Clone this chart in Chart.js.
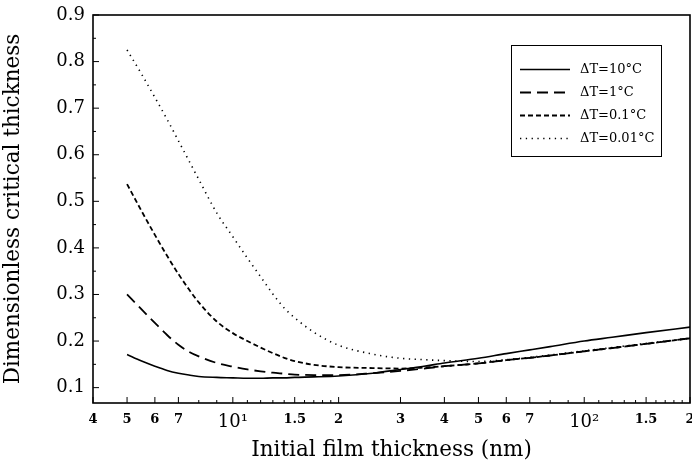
<!DOCTYPE html>
<html>
<head>
<meta charset="utf-8">
<script src="https://cdn.jsdelivr.net/npm/chart.js@4/dist/chart.umd.min.js"></script>
<style>
html,body{margin:0;padding:0;background:#fff;}
#wrap{width:692px;height:466px;}
</style>
</head>
<body>
<div id="wrap"><canvas id="c" width="692" height="466"></canvas></div>
<script>
// ---- data ----
const xValues = [5,5.5,6,6.5,7,7.5,8,9,10,11,12,13,14,15,17,20,25,30,35,40,50,60,70,80,100,120,150,200];
const dT10   = [0.171,0.157,0.146,0.137,0.131,0.127,0.124,0.122,0.121,0.120,0.120,0.121,0.121,0.122,0.123,0.125,0.131,0.139,0.146,0.153,0.163,0.173,0.181,0.188,0.200,0.208,0.218,0.230];
const dT1    = [0.300,0.268,0.239,0.213,0.192,0.177,0.167,0.153,0.145,0.139,0.135,0.132,0.130,0.128,0.127,0.127,0.131,0.136,0.141,0.146,0.152,0.159,0.164,0.169,0.178,0.185,0.194,0.206];
const dT01   = [0.537,0.479,0.428,0.383,0.344,0.311,0.283,0.242,0.217,0.200,0.186,0.174,0.164,0.157,0.149,0.144,0.142,0.141,0.143,0.146,0.152,0.159,0.164,0.169,0.178,0.185,0.194,0.206];
const dT001  = [0.825,0.773,0.723,0.676,0.630,0.587,0.547,0.475,0.424,0.378,0.338,0.301,0.271,0.250,0.219,0.191,0.172,0.163,0.160,0.158,0.156,0.160,0.165,0.170,0.179,0.186,0.195,0.206];
const seriesNames = ['\u0394T=10\u00B0C','\u0394T=1\u00B0C','\u0394T=0.1\u00B0C','\u0394T=0.01\u00B0C'];

const xMajorTicks = [4,5,6,7,10,15,20,30,40,50,60,70,100,150,200];
const xMinorTicks = [8,9,11,12,13,14,16,17,18,19,80,90,110,120,130,140,160,170,180,190];
const xTickLabels = ['4','5','6','7','10\u00B9','1.5','2','3','4','5','6','7','10\u00B2','1.5','2'];
const yMajorTicks = [0.1,0.2,0.3,0.4,0.5,0.6,0.7,0.8,0.9];
const yMinorTicks = [0.15,0.25,0.35,0.45,0.55,0.65,0.75,0.85];
const yTickLabels = ['0.1','0.2','0.3','0.4','0.5','0.6','0.7','0.8','0.9'];

const SERIF = '"DejaVu Serif", "Liberation Serif", serif';

function pts(ys){ return xValues.map((x,i)=>({x:x, y:ys[i]})); }

const styles = [
  {dash:[], w:1.6},
  {dash:[11,6], w:1.8},
  {dash:[5,3], w:1.8},
  {dash:[1.3,4.5], w:1.6}
];
const allSeries = [dT10,dT1,dT01,dT001];

const datasets = allSeries.map((s,i)=>({
  label: seriesNames[i],
  data: pts(s),
  borderColor:'#000',
  borderWidth: styles[i].w,
  borderDash: styles[i].dash,
  pointRadius:0,
  fill:false,
  cubicInterpolationMode:'monotone'
}));

const frameTicks = {
  id:'frameTicks',
  afterDatasetsDraw(chart){
    const {ctx, chartArea, scales} = chart;
    const {left,right,top,bottom} = chartArea;
    const x = scales.x, y = scales.y;
    ctx.save();
    ctx.strokeStyle = '#000';
    ctx.lineWidth = 1;
    ctx.setLineDash([]);
    const seg = (a,b,c,d)=>{ctx.beginPath();ctx.moveTo(a,b);ctx.lineTo(c,d);ctx.stroke();};
    xMajorTicks.forEach(v=>{const p=x.getPixelForValue(v); seg(p,bottom,p,bottom-6);});
    xMinorTicks.forEach(v=>{const p=x.getPixelForValue(v); seg(p,bottom,p,bottom-3);});
    yMajorTicks.forEach(v=>{const p=y.getPixelForValue(v); seg(left,p,left+6,p);});
    yMinorTicks.forEach(v=>{const p=y.getPixelForValue(v); seg(left,p,left+3,p);});
    ctx.lineWidth = 1.6;
    ctx.strokeRect(left, top, right-left, bottom-top);
    ctx.restore();
  }
};

const boxLegend = {
  id:'boxLegend',
  afterDraw(chart){
    const ctx = chart.ctx;
    const bx=511, by=45, bw=150, bh=111;
    ctx.save();
    ctx.strokeStyle='#000';
    ctx.lineWidth=1;
    ctx.setLineDash([]);
    ctx.strokeRect(bx+0.5, by+0.5, bw, bh);
    ctx.font = '13px ' + SERIF;
    ctx.fillStyle = '#000';
    ctx.textBaseline = 'middle';
    chart.data.datasets.forEach((ds,i)=>{
      const yy = 69.5 + i*23;
      ctx.lineWidth = ds.borderWidth;
      ctx.setLineDash(ds.borderDash);
      ctx.beginPath(); ctx.moveTo(520, yy); ctx.lineTo(570, yy); ctx.stroke();
      ctx.setLineDash([]);
      ctx.fillText(ds.label, 580, yy);
    });
    ctx.restore();
  }
};

function zeroPad(scale){
  scale.paddingLeft = 0; scale.paddingRight = 0;
  scale.paddingTop = 0; scale.paddingBottom = 0;
}

new Chart(document.getElementById('c'), {
  type:'line',
  data:{ datasets },
  options:{
    responsive:false,
    animation:false,
    devicePixelRatio:1,
    layout:{ padding:{ top:15, right:2, left:0, bottom:0 } },
    plugins:{ legend:{display:false}, tooltip:{enabled:false} },
    scales:{
      x:{
        type:'logarithmic',
        min:4, max:200,
        grid:{display:false, drawTicks:false},
        border:{display:false},
        afterBuildTicks(scale){ scale.ticks = xMajorTicks.map(v=>({value:v})); },
        afterFit(scale){ scale.height = 63; zeroPad(scale); },
        ticks:{
          autoSkip:false, maxRotation:0, minRotation:0, padding:9,
          color:'#000',
          font:(c)=>{
            const v = c.tick ? c.tick.value : 0;
            if (v===10 || v===100) return {family:SERIF, size:18};
            return {family:SERIF, size:13, weight:'bold'};
          },
          callback:(v)=>{ const i = xMajorTicks.indexOf(v); return i>=0 ? xTickLabels[i] : ''; }
        },
        title:{ display:true, text:'Initial film thickness (nm)', color:'#000',
          font:{family:SERIF, size:21.5}, padding:{top:0,bottom:3} }
      },
      y:{
        type:'linear',
        min:0.067, max:0.9,
        grid:{display:false, drawTicks:false},
        border:{display:false},
        afterBuildTicks(scale){ scale.ticks = yMajorTicks.map(v=>({value:v})); },
        afterFit(scale){ scale.width = 93; zeroPad(scale); },
        ticks:{
          padding:8, color:'#000',
          font:{family:SERIF, size:18},
          callback:(v)=>{ const i = yMajorTicks.findIndex(t=>Math.abs(t-v)<1e-9); return i>=0 ? yTickLabels[i] : ''; }
        },
        title:{ display:true, text:'Dimensionless critical thickness', color:'#000',
          font:{family:SERIF, size:21.5}, padding:{top:1,bottom:0} }
      }
    }
  },
  plugins:[frameTicks, boxLegend]
});
</script>
</body>
</html>
